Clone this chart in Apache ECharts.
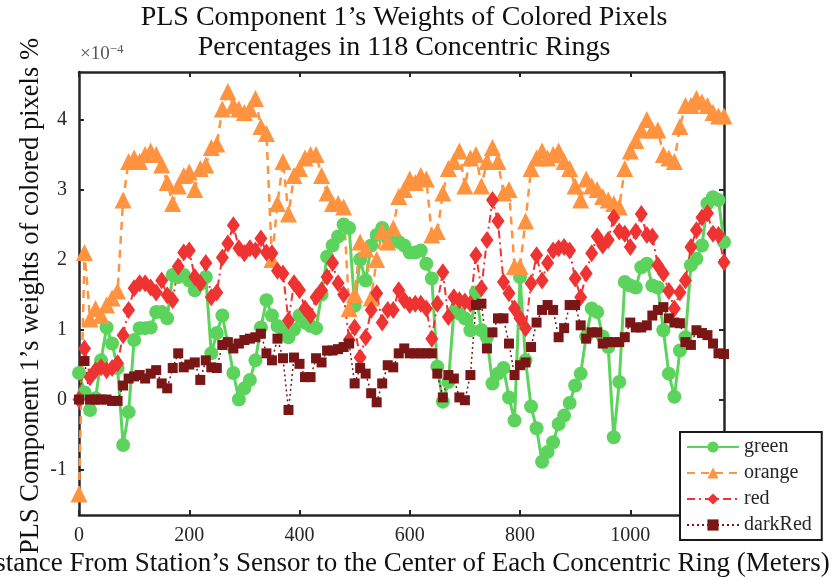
<!DOCTYPE html>
<html>
<head>
<meta charset="utf-8">
<title>PLS Component 1 weights</title>
<script src="https://cdn.jsdelivr.net/npm/echarts@6/dist/echarts.min.js"></script>
<style>
  html, body { margin: 0; padding: 0; background: #fff; }
  #chart { width: 840px; height: 580px; }
</style>
</head>
<body>
<div id="chart"></div>
<script>
// distance of each of the 118 rings (meters)
var ringDist = [];
for (var i = 0; i < 118; i++) ringDist.push(i * 10);

// weights, in units of 1e-4
var greenVals = [
  0.38, 0.1, -0.15, 0.02, 0.56, 1.03, 0.8, 0.45, -0.65, -0.18,
  0.85, 1.02, 1.02, 1.03, 1.25, 1.25, 1.16, 1.78, 1.75, 1.78,
  1.7, 1.56, 1.65, 1.75, 0.66, 0.95, 1.2, 0.8, 0.38, 0.0,
  0.16, 0.28, 0.56, 1.03, 1.42, 1.2, 1.05, 0.99, 0.89, 1.0,
  1.2, 1.1, 1.05, 1.02, 1.5, 2.04, 2.2, 2.33, 2.5, 2.45,
  1.34, 2.0, 1.7, 2.2, 2.35, 2.45, 2.3, 2.3, 2.25, 2.2,
  2.1, 2.1, 2.13, 1.94, 1.73, 0.47, -0.03, 0.25, 1.25, 1.23,
  1.16, 0.99, 1.53, 0.99, 0.89, 0.23, 0.37, 0.45, 0.03, -0.3,
  1.75, 0.56, -0.1, -0.41, -0.89, -0.75, -0.61, -0.35, -0.23, -0.05,
  0.2, 0.37, 0.9, 1.3, 1.25, 0.9, 0.75, -0.54, 0.25, 1.68,
  1.63, 1.6, 1.89, 1.94, 1.63, 1.6, 0.99, 0.37, 0.04, 0.7,
  0.89, 1.92, 2.01, 2.2, 2.8, 2.89, 2.85, 2.25
];
var orangeVals = [
  -1.35, 2.1, 1.15, 1.3, 1.2, 1.35, 1.45, 1.55, 2.85, 3.4,
  3.45, 3.4, 3.5, 3.55, 3.5, 3.35, 3.1, 2.8, 3.05, 3.2,
  3.25, 3.0, 3.3, 3.35, 3.6, 3.65, 4.15, 4.4, 4.2, 4.15,
  4.1, 4.15, 4.3, 3.9, 3.8, 2.0, 2.8, 3.4, 2.65, 3.2,
  3.3, 3.45, 3.5, 3.5, 3.2, 2.95, 2.8, 2.8, 2.75, 1.3,
  1.5, 2.25, 2.15, 1.45, 2.0, 2.4, 2.25, 2.45, 2.9, 3.0,
  3.15, 3.1, 3.2, 3.15, 2.35, 2.4, 2.95, 3.3, 3.4, 3.55,
  3.05, 3.45, 3.5, 3.05, 3.4, 3.6, 3.4, 2.95, 3.0, 1.9,
  1.9, 2.55, 3.3, 3.45, 3.55, 3.45, 3.5, 3.55, 3.4, 3.3,
  3.05, 2.85, 3.15, 3.05, 3.0, 2.9, 2.85, 2.8, 2.75, 3.3,
  3.55, 3.7, 3.85, 4.0, 3.85, 3.85, 3.5, 3.45, 3.4, 3.9,
  4.2, 4.2, 4.3, 4.25, 4.2, 4.1, 4.05, 4.05
];
var redVals = [
  0.0, 0.73, 0.32, 0.42, 0.46, 0.42, 0.45, 0.52, 0.92, 1.28,
  1.59, 1.66, 1.66, 1.6, 1.53, 1.7, 1.49, 1.42, 1.9, 2.1,
  2.13, 1.75, 1.66, 1.95, 1.46, 1.53, 2.03, 2.23, 2.49, 2.16,
  2.09, 2.16, 2.13, 2.3, 2.1, 2.09, 1.84, 1.8, 1.13, 1.66,
  1.56, 1.3, 1.2, 1.46, 1.56, 1.75, 1.95, 1.66, 1.5, 0.85,
  1.03, 0.6, 0.89, 1.28, 1.52, 1.1, 1.28, 1.28, 1.56, 1.42,
  1.35, 1.37, 1.37, 1.3, 0.87, 1.37, 1.82, 1.18, 1.46, 1.42,
  1.4, 1.37, 2.06, 1.59, 2.28, 2.85, 2.55, 1.68, 1.52, 1.3,
  1.16, 1.02, 1.66, 2.06, 1.7, 1.95, 2.13, 2.16, 2.18, 2.13,
  1.73, 1.46, 1.8, 2.09, 2.33, 2.2, 2.28, 2.6, 2.4, 2.37,
  2.18, 2.4, 2.65, 2.35, 2.33, 1.92, 1.8, 1.55, 1.3, 1.53,
  1.7, 2.18, 2.42, 2.6, 2.66, 2.37, 2.35, 1.96
];
var darkRedVals = [
  0.0, 0.55, 0.0, 0.0, 0.0, 0.0, -0.02, -0.02, 0.2, 0.3,
  0.33, 0.35, 0.3, 0.37, 0.42, 0.23, 0.16, 0.45, 0.66, 0.46,
  0.5, 0.53, 0.28, 0.56, 0.46, 0.45, 0.78, 0.82, 0.73, 0.8,
  0.85, 0.87, 0.89, 0.94, 0.66, 0.56, 0.87, 0.59, -0.15, 0.6,
  0.51, 0.32, 0.32, 0.59, 0.53, 0.7, 0.7, 0.72, 0.75, 0.8,
  0.23, 0.45, 0.37, 0.09, -0.04, 0.23, 0.49, 0.46, 0.66, 0.73,
  0.66, 0.66, 0.66, 0.66, 0.66, 0.37, 0.03, 0.35, 0.3, 0.03,
  -0.01, 0.35, 1.35, 1.37, 0.73, 0.96, 1.16, 1.16, 0.8, 0.35,
  0.49, 0.53, 0.75, 1.1, 1.28, 1.35, 1.28, 0.89, 1.02, 1.35,
  1.35, 1.06, 0.87, 0.96, 0.96, 0.8, 0.82, 0.82, 0.82, 0.89,
  1.1, 1.03, 1.03, 1.06, 1.2, 1.28, 1.32, 1.16, 1.1, 1.09,
  0.82, 0.78, 0.99, 0.95, 0.92, 0.8, 0.66, 0.65
];

var xMax = 1170;
var serif = '"Liberation Serif", "DejaVu Serif", serif';
var axisCol = '#262626';

function pairs(vals) {
  return ringDist.map(function (d, i) { return [d, vals[i]]; });
}

var myChart = echarts.init(document.getElementById('chart'));

function frameAxis() {
  return {
    axisLine: { show: true, onZero: false, lineStyle: { color: axisCol, width: 2.5 } },
    axisTick: { show: true, inside: true, length: 5, lineStyle: { color: axisCol, width: 2 } },
    splitLine: { show: false }
  };
}

var option = {
  animation: false,
  backgroundColor: '#fff',
  grid: { left: 79, right: 116, top: 72, bottom: 65 },
  xAxis: [
    Object.assign({
      type: 'value', min: 0, max: xMax, interval: 200, position: 'bottom',
      axisLabel: {
        color: axisCol, fontFamily: serif, fontSize: 20, margin: 11, showMaxLabel: false,
        formatter: function (v) { return String(v); }
      }
    }, frameAxis()),
    Object.assign({
      type: 'value', min: 0, max: xMax, interval: 200, position: 'top',
      axisLabel: { show: false }
    }, frameAxis())
  ],
  yAxis: [
    Object.assign({
      type: 'value', min: -1.65, max: 4.68, splitNumber: 6, minInterval: 1, maxInterval: 1, position: 'left',
      axisLabel: {
        color: axisCol, fontFamily: serif, fontSize: 20, margin: 12,
        showMinLabel: false, showMaxLabel: false,
        formatter: function (v) { return Math.abs(v - Math.round(v)) < 1e-6 ? String(Math.round(v)) : ''; }
      }
    }, frameAxis()),
    Object.assign({
      type: 'value', min: -1.65, max: 4.68, splitNumber: 6, minInterval: 1, maxInterval: 1, position: 'right',
      axisLabel: { show: false }
    }, frameAxis())
  ],
  legend: {
    left: 680, top: 432,
    orient: 'vertical',
    padding: [5, 10, 5, 6],
    itemGap: 6,
    itemWidth: 52,
    itemHeight: 14,
    backgroundColor: '#fff',
    borderColor: '#1a1a1a',
    borderWidth: 2,
    borderRadius: 0,
    textStyle: { color: axisCol, fontFamily: serif, fontSize: 20 },
    data: ['green', 'orange', 'red', 'darkRed']
  },
  graphic: [
    {
      type: 'text', x: 404, y: 3, z: 10,
      style: {
        text: 'PLS Component 1\u2019s Weights of Colored Pixels\nPercentages in 118 Concentric Rings',
        textAlign: 'center', textVerticalAlign: 'top',
        font: '28px ' + serif, fill: '#111', lineHeight: 30
      }
    },
    {
      type: 'text', x: 399, y: 564, z: 10,
      style: {
        text: 'Distance From Station\u2019s Sensor to the Center of Each Concentric Ring (Meters)',
        textAlign: 'center', textVerticalAlign: 'middle',
        font: '27px ' + serif, fill: '#111'
      }
    },
    {
      type: 'text', x: 31, y: 296, rotation: Math.PI / 2, z: 10,
      style: {
        text: 'PLS Component 1\u2019s weights of colored pixels %',
        textAlign: 'center', textVerticalAlign: 'middle',
        font: '26.5px ' + serif, fill: '#111'
      }
    },
    {
      type: 'text', x: 80, y: 66, z: 10,
      style: {
        text: '{a|\u00d710}{b|\u22124}',
        textVerticalAlign: 'bottom',
        rich: {
          a: { font: '19px ' + serif, fill: '#555' },
          b: { font: '13px ' + serif, fill: '#555', verticalAlign: 'top', padding: [0, 0, 10, 0] }
        }
      }
    }
  ],
  series: [
    {
      name: 'green', type: 'line', data: pairs(greenVals),
      color: '#5cd35c', symbol: 'circle', symbolSize: 14, showAllSymbol: true,
      lineStyle: { width: 3, type: 'solid' }
    },
    {
      name: 'orange', type: 'line', data: pairs(orangeVals),
      color: '#ff9340', symbol: 'triangle', symbolSize: 17, showAllSymbol: true,
      lineStyle: { width: 2.5, type: [8, 6] }
    },
    {
      name: 'red', type: 'line', data: pairs(redVals),
      color: '#ee3333', symbol: 'diamond', symbolSize: [13, 18], showAllSymbol: true,
      lineStyle: { width: 2, type: [8, 4, 2, 4] }
    },
    {
      name: 'darkRed', type: 'line', data: pairs(darkRedVals),
      color: '#7a1616', symbol: 'rect', symbolSize: 10, showAllSymbol: true,
      lineStyle: { width: 1.5, type: [2, 3] }
    }
  ]
};

myChart.clear();
myChart.setOption(option);
window.addEventListener('resize', function () {
  myChart.resize();
});
</script>
</body>
</html>
